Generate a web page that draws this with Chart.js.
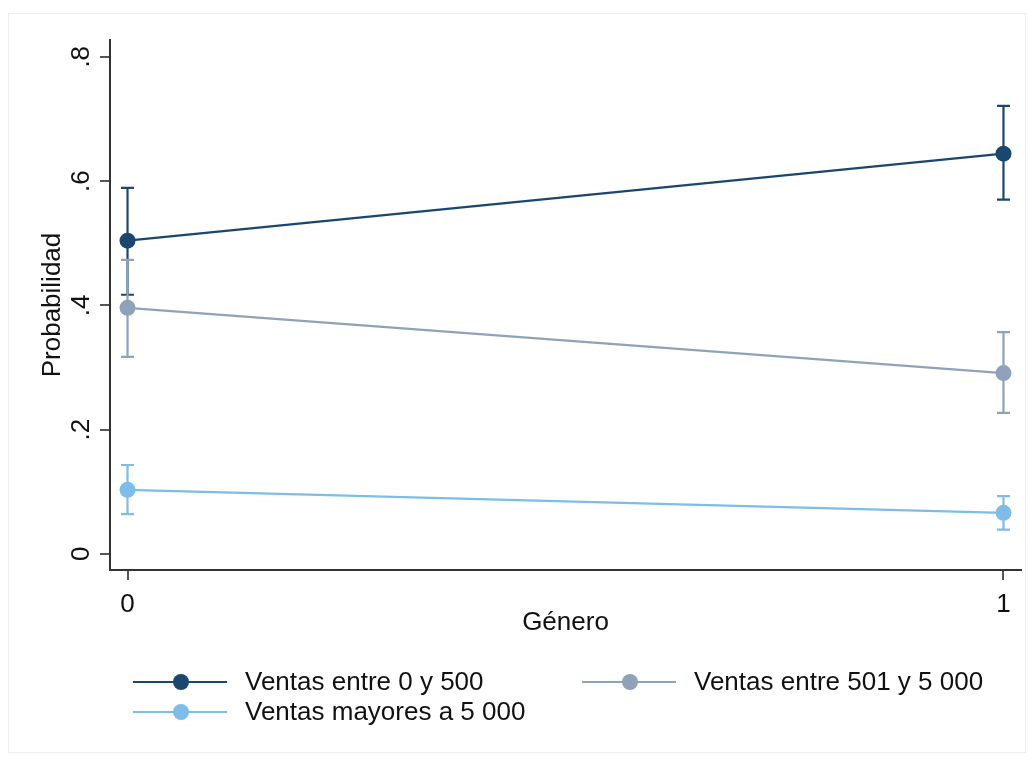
<!DOCTYPE html>
<html><head><meta charset="utf-8">
<script src="https://cdn.jsdelivr.net/npm/chart.js@4"></script>
<style>html,body{margin:0;padding:0;background:#fff}
#wrap{position:relative;width:1034px;height:763px}
</style></head>
<body><div id="wrap"><canvas id="c"></canvas></div>
<script>
const genero = [0, 1];
const seriesNames = ['Ventas entre 0 y 500', 'Ventas entre 501 y 5 000', 'Ventas mayores a 5 000'];
const prob0_500 = [0.504, 0.644];
const lo0_500 = [0.417, 0.570];
const hi0_500 = [0.589, 0.721];
const prob501_5000 = [0.396, 0.291];
const lo501_5000 = [0.317, 0.227];
const hi501_5000 = [0.473, 0.357];
const probMas5000 = [0.103, 0.066];
const loMas5000 = [0.064, 0.039];
const hiMas5000 = [0.143, 0.093];
const yTickValues = [0, 0.2, 0.4, 0.6, 0.8];
const yTickLabels = ['0', '.2', '.4', '.6', '.8'];
const xTickValues = [0, 1];
const xTickLabels = ['0', '1'];
const xTitle = 'Género';
const yTitle = 'Probabilidad';

const colors = ['#1a476f', '#8ea2b9', '#7cbde9'];
const FONT = 'Arial, "Liberation Sans", sans-serif';

function mk(name, vals, lo, hi, color) {
  return {
    label: name,
    data: genero.map((g, i) => ({x: g, y: vals[i]})),
    errLo: lo, errHi: hi,
    borderColor: color, backgroundColor: color,
    pointBackgroundColor: color, pointBorderColor: color,
    borderWidth: 2.2, pointRadius: 8, pointHoverRadius: 8, pointBorderWidth: 0,
    tension: 0, fill: false
  };
}

const errorBars = {
  id: 'errorBars',
  beforeDatasetsDraw(chart) {
    const ctx = chart.ctx, xs = chart.scales.x, ys = chart.scales.y;
    chart.data.datasets.forEach((ds) => {
      ctx.save();
      ctx.strokeStyle = ds.borderColor;
      ctx.lineWidth = 2.2;
      ds.data.forEach((p, i) => {
        const x = xs.getPixelForValue(p.x);
        const y1 = ys.getPixelForValue(ds.errLo[i]);
        const y2 = ys.getPixelForValue(ds.errHi[i]);
        ctx.beginPath();
        ctx.moveTo(x, y1); ctx.lineTo(x, y2);
        ctx.moveTo(x - 6.5, y1); ctx.lineTo(x + 6.5, y1);
        ctx.moveTo(x - 6.5, y2); ctx.lineTo(x + 6.5, y2);
        ctx.stroke();
      });
      ctx.restore();
    });
  }
};

const customLegend = {
  id: 'customLegend',
  afterDraw(chart) {
    const ctx = chart.ctx;
    const colX = [133, 582], rowY = [682, 712];
    chart.data.datasets.forEach((ds, i) => {
      const cx = colX[i % 2], cy = rowY[Math.floor(i / 2)];
      ctx.save();
      ctx.strokeStyle = ds.borderColor; ctx.lineWidth = 2.2;
      ctx.beginPath(); ctx.moveTo(cx, cy); ctx.lineTo(cx + 94, cy); ctx.stroke();
      ctx.fillStyle = ds.borderColor;
      ctx.beginPath(); ctx.arc(cx + 48, cy, 8, 0, Math.PI * 2); ctx.fill();
      ctx.fillStyle = '#111';
      ctx.font = '26px ' + FONT;
      ctx.textBaseline = 'middle'; ctx.textAlign = 'left';
      ctx.fillText(ds.label, cx + 112, cy + 1);
      ctx.restore();
    });
  }
};

const frame = {
  id: 'frame',
  beforeDraw(chart) {
    const ctx = chart.ctx;
    ctx.save();
    ctx.fillStyle = '#fff';
    ctx.fillRect(0, 0, chart.width, chart.height);
    ctx.strokeStyle = '#eeeeee'; ctx.lineWidth = 1;
    ctx.strokeRect(8.5, 13.5, chart.width - 17, chart.height - 24);
    ctx.restore();
  }
};

new Chart(document.getElementById('c'), {
  type: 'line',
  data: {
    datasets: [
      mk(seriesNames[0], prob0_500, lo0_500, hi0_500, colors[0]),
      mk(seriesNames[1], prob501_5000, lo501_5000, hi501_5000, colors[1]),
      mk(seriesNames[2], probMas5000, loMas5000, hiMas5000, colors[2])
    ]
  },
  options: {
    responsive: true, maintainAspectRatio: false, animation: false,
    layout: {padding: {top: 40, right: 13, bottom: 123, left: 0}},
    plugins: {legend: {display: false}, tooltip: {enabled: false}},
    scales: {
      x: {
        type: 'linear', min: -0.02, max: 1.02,
        afterBuildTicks(s) { s.ticks = xTickValues.map(v => ({value: v})); },
        afterFit(s) { s.height = 70; },
        ticks: {
          callback: (v) => xTickLabels[xTickValues.indexOf(v)],
          font: {family: FONT, size: 26}, color: '#111', padding: 9, maxRotation: 0, autoSkip: false
        },
        grid: {drawOnChartArea: false, tickLength: 10, color: '#555', lineWidth: 2},
        border: {color: '#333', width: 2},
        title: {display: true, text: xTitle, font: {family: FONT, size: 26}, color: '#111', padding: {top: 0, bottom: 2}}
      },
      y: {
        type: 'linear', min: -0.026, max: 0.827,
        afterBuildTicks(s) { s.ticks = yTickValues.map(v => ({value: v})); },
        afterFit(s) { s.width = 110; },
        ticks: {
          callback: (v) => yTickLabels[yTickValues.indexOf(v)],
          font: {family: FONT, size: 26}, color: '#111', padding: 7,
          minRotation: 90, maxRotation: 90, crossAlign: 'center', autoSkip: false
        },
        grid: {drawOnChartArea: false, tickLength: 10, color: '#555', lineWidth: 2},
        border: {color: '#333', width: 2},
        title: {display: true, text: yTitle, font: {family: FONT, size: 26}, color: '#111', padding: {top: 37, bottom: 0}}
      }
    }
  },
  plugins: [frame, errorBars, customLegend]
});
</script>
</body></html>
